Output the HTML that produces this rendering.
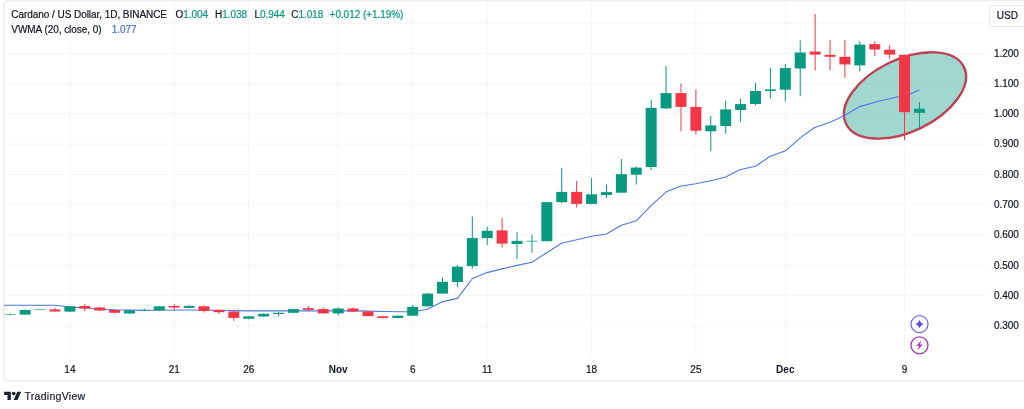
<!DOCTYPE html>
<html><head><meta charset="utf-8"><title>Cardano / US Dollar</title>
<style>
html,body{margin:0;padding:0;background:#fff;}
body{-webkit-text-stroke:0.2px;width:1024px;height:409px;position:relative;overflow:hidden;font-family:"Liberation Sans",sans-serif;color:#131722;}
#frame-top{position:absolute;left:3px;top:0;width:1021px;height:2px;background:#f0f1f5;}
#frame-left{position:absolute;left:3px;top:0;width:2px;height:382px;background:#f0f1f5;}
#frame-bot{position:absolute;left:3px;top:380px;width:1021px;height:2px;background:#f0f1f5;}
svg#chart{position:absolute;left:0;top:0;}
.t{position:absolute;white-space:nowrap;font-size:10px;line-height:14px;letter-spacing:-0.05px;}
.g{color:#089981}
.pl{position:absolute;left:993.9px;width:26px;font-size:10px;line-height:14px;white-space:nowrap;letter-spacing:0px;}
.tl{position:absolute;top:363.3px;width:60px;text-align:center;font-size:10px;line-height:14px;}
.tl.b{font-weight:bold;font-size:10px;-webkit-text-stroke:0;}
#usd{position:absolute;left:989px;top:4.5px;width:40px;height:22px;border:1px solid #e6e8ee;border-radius:4px;box-sizing:border-box;}
#usdt{position:absolute;left:996.8px;top:8.6px;font-size:10px;line-height:14px;}
#brand{position:absolute;left:24.4px;top:389.3px;font-size:10.5px;letter-spacing:0.3px;line-height:14px;color:#1c2030;}
</style></head><body>
<svg id="chart" width="1024" height="409" viewBox="0 0 1024 409">
<rect x="69.4" y="3" width="1" height="353" fill="#f5f6f9"/>
<rect x="173.7" y="3" width="1" height="353" fill="#f5f6f9"/>
<rect x="248.2" y="3" width="1" height="353" fill="#f5f6f9"/>
<rect x="337.7" y="3" width="1" height="353" fill="#f5f6f9"/>
<rect x="412.2" y="3" width="1" height="353" fill="#f5f6f9"/>
<rect x="486.7" y="3" width="1" height="353" fill="#f5f6f9"/>
<rect x="591.0" y="3" width="1" height="353" fill="#f5f6f9"/>
<rect x="695.4" y="3" width="1" height="353" fill="#f5f6f9"/>
<rect x="784.8" y="3" width="1" height="353" fill="#f5f6f9"/>
<rect x="904.0" y="3" width="1" height="353" fill="#f5f6f9"/>
<rect x="5" y="22.7" width="980" height="1" fill="#f5f6f9"/>
<rect x="5" y="53.0" width="980" height="1" fill="#f5f6f9"/>
<rect x="5" y="83.2" width="980" height="1" fill="#f5f6f9"/>
<rect x="5" y="113.5" width="980" height="1" fill="#f5f6f9"/>
<rect x="5" y="143.8" width="980" height="1" fill="#f5f6f9"/>
<rect x="5" y="174.0" width="980" height="1" fill="#f5f6f9"/>
<rect x="5" y="204.3" width="980" height="1" fill="#f5f6f9"/>
<rect x="5" y="234.6" width="980" height="1" fill="#f5f6f9"/>
<rect x="5" y="264.9" width="980" height="1" fill="#f5f6f9"/>
<rect x="5" y="295.1" width="980" height="1" fill="#f5f6f9"/>
<rect x="5" y="325.4" width="980" height="1" fill="#f5f6f9"/>
<rect x="4" y="0.5" width="1040" height="380.6" rx="4" fill="none" stroke="#efeff3" stroke-width="2"/>
<g transform="rotate(-25.6 905 95.4)"><ellipse cx="905" cy="95.4" rx="65.4" ry="36.2" fill="rgba(8,153,129,0.385)" stroke="#be4155" stroke-width="2.4"/></g>
<polyline points="4.0,305.3 55.0,305.3 70.0,307.0 85.0,308.0 100.0,309.0 115.0,309.8 130.0,310.1 150.0,310.3 190.0,310.0 215.0,310.3 248.0,310.9 360.0,310.9 383.0,311.5 400.0,311.8 412.7,311.7 427.6,309.2 442.7,301.6 457.4,298.4 472.5,278.5 487.0,272.6 502.0,268.9 517.0,265.4 532.0,262.3 546.7,252.7 561.5,243.2 576.8,239.7 591.6,236.2 606.3,234.0 621.3,225.3 636.5,220.7 651.3,205.3 666.3,191.8 680.3,186.3 695.7,183.8 710.4,180.8 725.1,177.2 739.7,169.8 755.5,166.2 770.2,156.3 785.6,150.8 800.2,137.9 814.2,127.7 829.6,122.5 845.0,115.2 859.8,106.6 878.4,101.3 897.2,97.0 908.0,95.1 919.5,89.8" fill="none" stroke="#4c78e4" stroke-width="1.1" stroke-linejoin="round"/>
<rect x="9.75" y="313.5" width="1" height="2.0" fill="#089981"/>
<rect x="4.75" y="314.2" width="11" height="0.6" fill="#089981"/>
<rect x="24.66" y="309.5" width="1" height="5.3" fill="#089981"/>
<rect x="19.66" y="310.0" width="11" height="4.6" fill="#089981"/>
<rect x="39.56" y="309.2" width="1" height="0.8" fill="#089981"/>
<rect x="34.56" y="309.3" width="11" height="0.6" fill="#089981"/>
<rect x="54.46" y="308.0" width="1" height="4.0" fill="#f23645"/>
<rect x="49.46" y="309.4" width="11" height="2.1" fill="#f23645"/>
<rect x="69.37" y="306.0" width="1" height="6.0" fill="#089981"/>
<rect x="64.37" y="306.3" width="11" height="5.3" fill="#089981"/>
<rect x="84.27" y="304.0" width="1" height="7.0" fill="#f23645"/>
<rect x="79.27" y="306.0" width="11" height="2.5" fill="#f23645"/>
<rect x="99.18" y="307.0" width="1" height="4.0" fill="#f23645"/>
<rect x="94.18" y="307.5" width="11" height="3.0" fill="#f23645"/>
<rect x="114.08" y="309.5" width="1" height="3.8" fill="#f23645"/>
<rect x="109.08" y="310.0" width="11" height="2.8" fill="#f23645"/>
<rect x="128.99" y="310.0" width="1" height="3.8" fill="#089981"/>
<rect x="123.99" y="310.3" width="11" height="3.2" fill="#089981"/>
<rect x="143.89" y="308.8" width="1" height="1.8" fill="#089981"/>
<rect x="138.89" y="310.0" width="11" height="0.6" fill="#089981"/>
<rect x="158.80" y="306.0" width="1" height="4.8" fill="#089981"/>
<rect x="153.80" y="306.3" width="11" height="4.1" fill="#089981"/>
<rect x="173.70" y="304.0" width="1" height="6.0" fill="#f23645"/>
<rect x="168.70" y="306.0" width="11" height="1.6" fill="#f23645"/>
<rect x="188.61" y="305.0" width="1" height="3.2" fill="#089981"/>
<rect x="183.61" y="306.0" width="11" height="1.9" fill="#089981"/>
<rect x="203.51" y="305.3" width="1" height="7.2" fill="#f23645"/>
<rect x="198.51" y="306.3" width="11" height="4.7" fill="#f23645"/>
<rect x="218.42" y="309.4" width="1" height="4.4" fill="#f23645"/>
<rect x="213.42" y="309.9" width="11" height="2.3" fill="#f23645"/>
<rect x="233.32" y="310.6" width="1" height="10.4" fill="#f23645"/>
<rect x="228.32" y="311.5" width="11" height="6.4" fill="#f23645"/>
<rect x="248.23" y="316.0" width="1" height="3.2" fill="#089981"/>
<rect x="243.23" y="316.3" width="11" height="2.5" fill="#089981"/>
<rect x="263.13" y="313.4" width="1" height="3.6" fill="#089981"/>
<rect x="258.13" y="313.8" width="11" height="2.7" fill="#089981"/>
<rect x="278.04" y="311.9" width="1" height="4.4" fill="#089981"/>
<rect x="273.04" y="312.8" width="11" height="1.2" fill="#089981"/>
<rect x="292.94" y="308.7" width="1" height="4.5" fill="#089981"/>
<rect x="287.94" y="309.1" width="11" height="3.7" fill="#089981"/>
<rect x="307.85" y="306.0" width="1" height="5.0" fill="#f23645"/>
<rect x="302.85" y="308.1" width="11" height="1.7" fill="#f23645"/>
<rect x="322.75" y="307.5" width="1" height="6.3" fill="#f23645"/>
<rect x="317.75" y="309.1" width="11" height="4.3" fill="#f23645"/>
<rect x="337.66" y="307.5" width="1" height="7.8" fill="#089981"/>
<rect x="332.66" y="308.5" width="11" height="4.9" fill="#089981"/>
<rect x="352.56" y="307.3" width="1" height="4.7" fill="#f23645"/>
<rect x="347.56" y="308.5" width="11" height="3.0" fill="#f23645"/>
<rect x="367.47" y="311.0" width="1" height="5.5" fill="#f23645"/>
<rect x="362.47" y="311.4" width="11" height="4.7" fill="#f23645"/>
<rect x="382.38" y="315.8" width="1" height="2.7" fill="#f23645"/>
<rect x="377.38" y="316.3" width="11" height="1.7" fill="#f23645"/>
<rect x="397.28" y="315.3" width="1" height="3.0" fill="#089981"/>
<rect x="392.28" y="315.7" width="11" height="2.3" fill="#089981"/>
<rect x="412.19" y="304.9" width="1" height="11.1" fill="#089981"/>
<rect x="407.19" y="306.9" width="11" height="8.8" fill="#089981"/>
<rect x="427.09" y="293.0" width="1" height="13.8" fill="#089981"/>
<rect x="422.09" y="293.6" width="11" height="12.7" fill="#089981"/>
<rect x="442.00" y="277.5" width="1" height="16.5" fill="#089981"/>
<rect x="437.00" y="281.8" width="11" height="11.8" fill="#089981"/>
<rect x="456.90" y="265.0" width="1" height="22.2" fill="#089981"/>
<rect x="451.90" y="266.7" width="11" height="15.3" fill="#089981"/>
<rect x="471.81" y="216.5" width="1" height="52.2" fill="#089981"/>
<rect x="466.81" y="238.1" width="11" height="28.0" fill="#089981"/>
<rect x="486.71" y="226.8" width="1" height="18.3" fill="#089981"/>
<rect x="481.71" y="230.8" width="11" height="7.3" fill="#089981"/>
<rect x="501.61" y="218.0" width="1" height="29.3" fill="#f23645"/>
<rect x="496.61" y="230.4" width="11" height="13.2" fill="#f23645"/>
<rect x="516.52" y="231.9" width="1" height="27.5" fill="#089981"/>
<rect x="511.52" y="240.9" width="11" height="3.1" fill="#089981"/>
<rect x="531.42" y="234.6" width="1" height="18.0" fill="#089981"/>
<rect x="526.42" y="240.8" width="11" height="0.7" fill="#089981"/>
<rect x="546.33" y="202.0" width="1" height="39.5" fill="#089981"/>
<rect x="541.33" y="202.2" width="11" height="39.0" fill="#089981"/>
<rect x="561.24" y="167.9" width="1" height="35.1" fill="#089981"/>
<rect x="556.24" y="191.9" width="11" height="10.3" fill="#089981"/>
<rect x="576.14" y="181.0" width="1" height="26.4" fill="#f23645"/>
<rect x="571.14" y="191.9" width="11" height="12.0" fill="#f23645"/>
<rect x="591.04" y="178.1" width="1" height="26.1" fill="#089981"/>
<rect x="586.04" y="194.3" width="11" height="9.6" fill="#089981"/>
<rect x="605.95" y="184.5" width="1" height="13.5" fill="#089981"/>
<rect x="600.95" y="192.1" width="11" height="2.9" fill="#089981"/>
<rect x="620.86" y="159.0" width="1" height="34.0" fill="#089981"/>
<rect x="615.86" y="174.2" width="11" height="18.5" fill="#089981"/>
<rect x="635.76" y="166.4" width="1" height="18.1" fill="#089981"/>
<rect x="630.76" y="167.6" width="11" height="7.1" fill="#089981"/>
<rect x="650.66" y="99.6" width="1" height="70.3" fill="#089981"/>
<rect x="645.66" y="107.8" width="11" height="59.2" fill="#089981"/>
<rect x="665.57" y="66.1" width="1" height="42.9" fill="#089981"/>
<rect x="660.57" y="93.1" width="11" height="15.3" fill="#089981"/>
<rect x="680.48" y="83.4" width="1" height="47.8" fill="#f23645"/>
<rect x="675.48" y="93.1" width="11" height="13.8" fill="#f23645"/>
<rect x="695.38" y="89.6" width="1" height="44.6" fill="#f23645"/>
<rect x="690.38" y="106.9" width="11" height="23.8" fill="#f23645"/>
<rect x="710.28" y="116.0" width="1" height="35.2" fill="#089981"/>
<rect x="705.28" y="125.4" width="11" height="5.8" fill="#089981"/>
<rect x="725.19" y="100.5" width="1" height="33.2" fill="#089981"/>
<rect x="720.19" y="109.4" width="11" height="16.6" fill="#089981"/>
<rect x="740.09" y="98.9" width="1" height="22.8" fill="#089981"/>
<rect x="735.09" y="104.1" width="11" height="5.9" fill="#089981"/>
<rect x="755.00" y="83.0" width="1" height="22.2" fill="#089981"/>
<rect x="750.00" y="91.0" width="11" height="13.0" fill="#089981"/>
<rect x="769.90" y="67.8" width="1" height="30.5" fill="#089981"/>
<rect x="764.90" y="89.4" width="11" height="1.6" fill="#089981"/>
<rect x="784.81" y="64.0" width="1" height="37.4" fill="#089981"/>
<rect x="779.81" y="68.1" width="11" height="21.6" fill="#089981"/>
<rect x="799.71" y="40.3" width="1" height="55.8" fill="#089981"/>
<rect x="794.71" y="52.5" width="11" height="16.0" fill="#089981"/>
<rect x="814.62" y="14.0" width="1" height="56.4" fill="#f23645"/>
<rect x="809.62" y="51.6" width="11" height="3.0" fill="#f23645"/>
<rect x="829.52" y="40.0" width="1" height="30.5" fill="#f23645"/>
<rect x="824.52" y="54.8" width="11" height="2.0" fill="#f23645"/>
<rect x="844.43" y="40.0" width="1" height="37.9" fill="#f23645"/>
<rect x="839.43" y="56.8" width="11" height="7.6" fill="#f23645"/>
<rect x="859.33" y="41.2" width="1" height="30.3" fill="#089981"/>
<rect x="854.33" y="44.6" width="11" height="20.8" fill="#089981"/>
<rect x="874.24" y="41.2" width="1" height="14.7" fill="#f23645"/>
<rect x="869.24" y="44.1" width="11" height="5.4" fill="#f23645"/>
<rect x="889.14" y="45.3" width="1" height="13.5" fill="#f23645"/>
<rect x="884.14" y="49.7" width="11" height="4.9" fill="#f23645"/>
<rect x="904.05" y="54.5" width="1" height="85.8" fill="#f23645"/>
<rect x="899.05" y="54.8" width="11" height="57.4" fill="#f23645"/>
<rect x="918.95" y="102.0" width="1" height="27.0" fill="#089981"/>
<rect x="913.95" y="108.7" width="11" height="4.1" fill="#089981"/>
<g fill="none" stroke-width="1.3">
<circle cx="919.5" cy="324.1" r="8.5" stroke="#7b6cf0"/>
<circle cx="919.5" cy="345.3" r="8.5" stroke="#a040b0"/>
</g>
<path d="M919.5 319.9 Q920.5 323.1 923.7 324.1 Q920.5 325.1 919.5 328.3 Q918.5 325.1 915.3 324.1 Q918.5 323.1 919.5 319.9Z" fill="#5b4be8"/>
<path d="M921.5 340.4 L916.1 346.1 L919.1 346.1 L917.5 350.2 L922.9 344.5 L919.9 344.5 Z" fill="#b435c4"/>
<g fill="#1c2030" transform="translate(4.1 389.9) scale(0.48 0.455)"><path d="M14 22H7V11H0V4h14v18zM28 22h-8l7.5-18h8L28 22z"/><circle cx="20" cy="8" r="4"/></g>
</svg>
<div class="t" id="l1a" style="left:11.3px;top:8.3px">Cardano / US Dollar, 1D, BINANCE</div>
<div class="t" id="o" style="left:175.5px;top:8.3px">O<span class="g">1.004</span></div>
<div class="t" id="h" style="left:215px;top:8.3px">H<span class="g">1.038</span></div>
<div class="t" id="l" style="left:254.5px;top:8.3px">L<span class="g">0.944</span></div>
<div class="t" id="c" style="left:291.3px;top:8.3px">C<span class="g">1.018</span></div>
<div class="t g" id="chg" style="left:329.6px;top:8.3px">+0.012 (+1.19%)</div>
<div class="t" id="l2a" style="left:11.3px;top:23px">VWMA (20, close, 0)</div>
<div class="t" id="l2b" style="left:111.8px;top:23px;color:#4a6fd8">1.077</div>
<div id="usd"></div><div id="usdt">USD</div>
<div class="pl" style="top:46.64px">1.200</div>
<div class="pl" style="top:76.91px">1.100</div>
<div class="pl" style="top:107.18px">1.000</div>
<div class="pl" style="top:137.45px">0.900</div>
<div class="pl" style="top:167.72px">0.800</div>
<div class="pl" style="top:197.99px">0.700</div>
<div class="pl" style="top:228.26px">0.600</div>
<div class="pl" style="top:258.53px">0.500</div>
<div class="pl" style="top:288.80px">0.400</div>
<div class="pl" style="top:319.07px">0.300</div>
<div class="tl" style="left:39.9px">14</div>
<div class="tl" style="left:144.2px">21</div>
<div class="tl" style="left:218.7px">26</div>
<div class="tl b" style="left:308.2px">Nov</div>
<div class="tl" style="left:382.7px">6</div>
<div class="tl" style="left:457.2px">11</div>
<div class="tl" style="left:561.5px">18</div>
<div class="tl" style="left:665.9px">25</div>
<div class="tl b" style="left:755.3px">Dec</div>
<div class="tl" style="left:874.5px">9</div>
<div id="brand">TradingView</div>
</body></html>
